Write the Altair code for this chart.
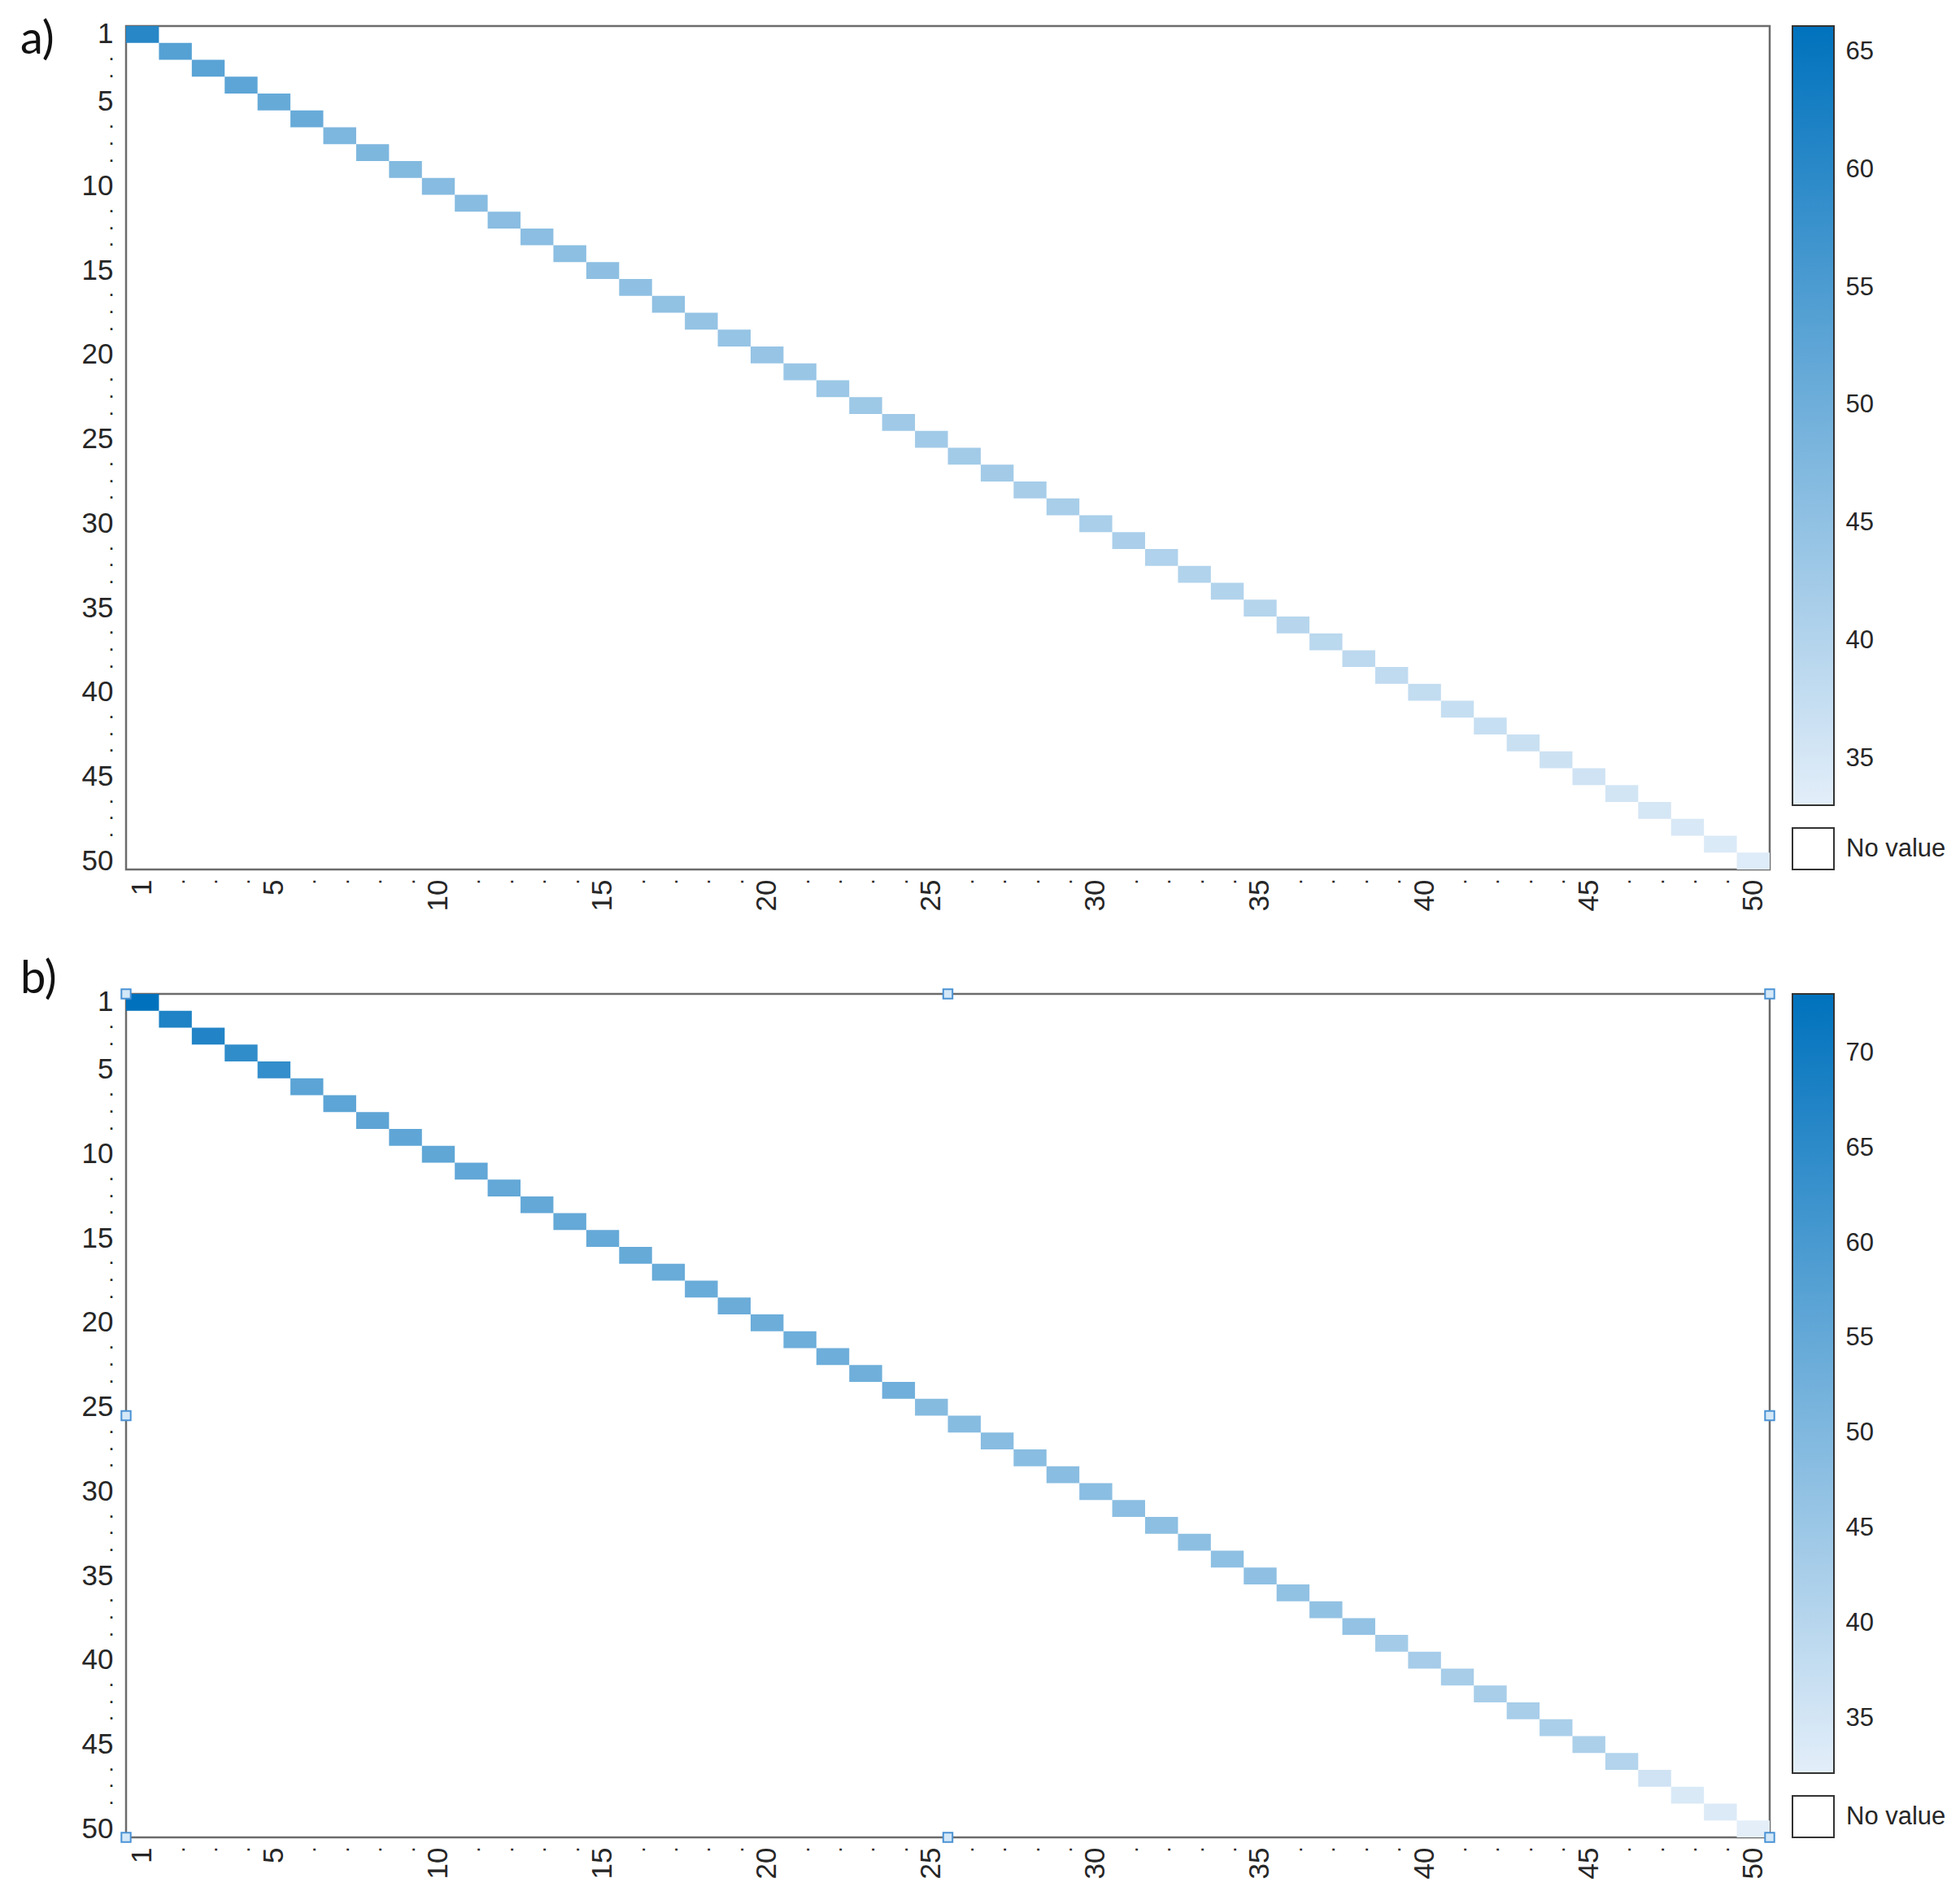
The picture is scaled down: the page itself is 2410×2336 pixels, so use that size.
import altair as alt
import pandas as pd

# ---- data (diagonal cells only; off-diagonal = no value)
values_a = [66.1, 57.7, 57.0, 56.3, 54.6, 54.3, 50.6, 50.3, 49.6, 48.8,
            48.6, 48.2, 48.0, 47.8, 47.5, 47.2, 47.0, 46.3, 46.1, 45.9,
            45.2, 45.0, 44.8, 44.2, 44.0, 43.8, 43.6, 42.9, 42.7, 42.5,
            42.3, 41.3, 41.1, 40.9, 40.4, 40.0, 39.5, 39.0, 38.5, 38.0,
            37.5, 37.2, 36.8, 36.2, 35.7, 35.2, 34.6, 34.1, 33.5, 33.0]
values_b = [73.1, 67.5, 67.0, 64.2, 63.8, 56.6, 56.3, 56.1, 55.9, 55.7,
            55.5, 55.3, 55.1, 55.0, 54.8, 54.6, 54.2, 54.0, 53.8, 53.6,
            53.4, 53.2, 53.0, 52.8, 48.9, 48.7, 48.6, 48.4, 48.3, 48.1,
            48.0, 47.8, 47.6, 47.4, 47.2, 47.0, 46.8, 46.6, 43.4, 43.2,
            43.0, 42.8, 42.6, 42.4, 42.1, 40.8, 35.8, 33.9, 33.3, 32.1]
ticks_a = [35, 40, 45, 50, 55, 60, 65]
ticks_b = [35, 40, 45, 50, 55, 60, 65, 70]
panel_tags = ["a)", "b)"]
handle_fx = [0, 0.5, 1, 0, 1, 0, 0.5, 1]
handle_fy = [0, 0, 0, 0.5, 0.5, 1, 1, 1]

LOW = "#e3eef9"
HIGH = "#0072bd"
FONT = "Liberation Sans"
TXT = "#262626"

PW, PH = 2021, 1037
CBH, BOXH, GAP = 958, 51, 28
CBW = 51

is_num = "datum.value == 1 || datum.value % 5 == 0"
x_label_expr = is_num + " ? datum.label : '.'"
y_label_expr = is_num + " ? datum.label : ((datum.value + 1) % 5 == 0 ? '' : '.')"
lab_size = {"condition": {"test": is_num, "value": 35}, "value": 18}
lab_weight = {"condition": {"test": is_num, "value": "normal"}, "value": "bold"}
lab_off = {"condition": {"test": is_num, "value": 0}, "value": 6}


def panel(vals, tag, ticks, tag_y, handles=False):
    n = len(vals)
    df = pd.DataFrame({"row": list(range(1, n + 1)),
                       "col": list(range(1, n + 1)),
                       "value": vals})
    lo, hi = min(vals), max(vals)
    cscale = alt.Scale(domain=[lo, hi], range=[LOW, HIGH], interpolate="rgb")

    heat = alt.Chart(df).mark_rect().encode(
        x=alt.X("col:O", title=None,
                scale=alt.Scale(paddingInner=0, paddingOuter=0),
                axis=alt.Axis(labelExpr=x_label_expr, labelAngle=270, ticks=False,
                              domain=False, labelFontSize=lab_size,
                              labelFontWeight=lab_weight, labelOffset=lab_off,
                              labelFont=FONT, labelColor=TXT, labelPadding=12,
                              labelOverlap=False)),
        y=alt.Y("row:O", title=None,
                scale=alt.Scale(paddingInner=0, paddingOuter=0),
                axis=alt.Axis(labelExpr=y_label_expr, ticks=False, domain=False,
                              labelFontSize=lab_size, labelFontWeight=lab_weight,
                              labelOffset=lab_off, labelFont=FONT, labelColor=TXT,
                              labelPadding=16, labelOverlap=False)),
        color=alt.Color("value:Q", scale=cscale, legend=None),
    )
    tagdf = pd.DataFrame({"t": [tag]})
    tag_mark = alt.Chart(tagdf).mark_text(
        fontSize=56, font="Lato", align="left", baseline="middle", color="#111"
    ).encode(x=alt.value(-130), y=alt.value(tag_y), text="t:N")
    layers = [heat, tag_mark]
    if handles:
        hdf = pd.DataFrame({"fx": handle_fx, "fy": handle_fy})
        hm = alt.Chart(hdf).mark_square(size=130, fill="#d4e8f8", stroke="#4a92d4",
                                        strokeWidth=2, opacity=1).encode(
            x=alt.X("fx:Q", scale=alt.Scale(domain=[0, 1]), axis=None),
            y=alt.Y("fy:Q", scale=alt.Scale(domain=[1, 0]), axis=None),
        )
        layers.append(hm)
    hmap = alt.layer(*layers).resolve_scale(x="independent", y="independent").properties(
        width=PW, height=PH,
        view=alt.ViewBackground(stroke="#6b6b6b", strokeWidth=2.5))

    cbdf = pd.DataFrame({"lo": [lo], "hi": [hi]})
    grad = alt.Gradient(gradient="linear",
                        stops=[alt.GradientStop(color=LOW, offset=0),
                               alt.GradientStop(color=HIGH, offset=1)],
                        x1=0, y1=1, x2=0, y2=0)
    cbar = alt.Chart(cbdf).mark_rect(fill=grad, stroke="#333333", strokeWidth=2).encode(
        x=alt.value(0), x2=alt.value(CBW),
        y=alt.Y("lo:Q", title=None,
                scale=alt.Scale(domain=[lo, hi], nice=False, zero=False),
                axis=alt.Axis(orient="right", values=ticks, tickSize=9, offset=-9,
                              domain=False, grid=False, tickColor="#333333",
                              tickWidth=1.5, labelFontSize=31, labelFont=FONT,
                              labelColor=TXT, labelPadding=14)),
        y2="hi:Q",
    ).properties(width=CBW, height=CBH,
                 view=alt.ViewBackground(stroke="transparent"))

    boxdf = pd.DataFrame({"t": ["No value"]})
    box = alt.Chart(boxdf).mark_rect(fill="white", stroke="#333333", strokeWidth=2).encode(
        x=alt.value(0), x2=alt.value(CBW), y=alt.value(0), y2=alt.value(BOXH))
    boxtxt = alt.Chart(boxdf).mark_text(
        fontSize=31, font=FONT, color=TXT, align="left", baseline="middle"
    ).encode(x=alt.value(CBW + 15), y=alt.value(BOXH / 2), text="t:N")
    boxc = alt.layer(box, boxtxt).properties(
        width=CBW, height=BOXH, view=alt.ViewBackground(stroke="transparent"))

    right = alt.vconcat(cbar, boxc, spacing=GAP, bounds="flush")
    return alt.hconcat(hmap, right, spacing=28, bounds="flush")


chart = alt.vconcat(
    panel(values_a, panel_tags[0], ticks_a, 17),
    panel(values_b, panel_tags[1], ticks_b, -18, handles=True),
    spacing=52,
).properties(padding={"left": 15, "top": 11, "right": 5, "bottom": 5}
).configure_view(stroke="transparent").configure(background="white")

chart.save("out.html", embed_options={"renderer": "svg", "actions": False})
